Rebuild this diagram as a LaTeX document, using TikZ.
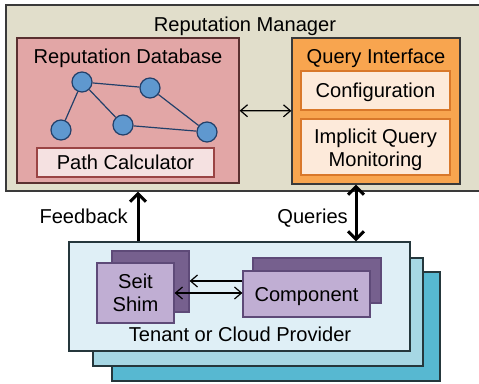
\documentclass[tikz,border=0pt]{standalone}
\usepackage{fontspec}
\setmainfont{Liberation Sans}
\usetikzlibrary{arrows.meta}

\definecolor{mgrfill}{HTML}{E1DECB}
\definecolor{darkline}{HTML}{3A3A3A}
\definecolor{dbfill}{HTML}{E2A6A6}
\definecolor{dbline}{HTML}{5A3030}
\definecolor{pathfill}{HTML}{F5E1E1}
\definecolor{pathline}{HTML}{9A4444}
\definecolor{peerfill}{HTML}{5F98CF}
\definecolor{peerline}{HTML}{22406A}
\definecolor{qifill}{HTML}{F8A54F}
\definecolor{cfgfill}{HTML}{FDEADA}
\definecolor{cfgline}{HTML}{D9782A}
\definecolor{tenantA}{HTML}{DFEFF6}
\definecolor{tenantB}{HTML}{A6D7E4}
\definecolor{tenantC}{HTML}{57B8D1}
\definecolor{tenantline}{HTML}{25373C}
\definecolor{shimback}{HTML}{76608E}
\definecolor{shimfront}{HTML}{C0AED3}
\definecolor{shimline}{HTML}{5E4A78}

\begin{document}
\begin{tikzpicture}[x=1pt, y=-1pt,
  font=\fontsize{20.1pt}{23pt}\selectfont,
  >={Straight Barb[length=7pt,width=12pt]},
  box/.style={draw, rectangle, inner sep=0pt, line width=1.2pt},
  txt/.style={inner sep=0pt, text height=14.3pt, text depth=0pt},
  peer/.style={circle, draw=peerline, fill=peerfill, line width=1.2pt,
    minimum size=20pt, inner sep=0pt},
  link/.style={draw=peerline, line width=1.2pt},
  flow/.style={<->, line width=1.2pt},
  bigflow/.style={line width=3pt, >={Straight Barb[length=8pt,width=16pt]}}]

\useasboundingbox (0,0) rectangle (479,383);

% -------------------------------------------------------
% 1. Reputation Manager
% -------------------------------------------------------
\node[box, draw=darkline, fill=mgrfill, minimum width=486pt, minimum height=186pt] (mgr) at (249,98) {};
\node[txt, anchor=base] (mgrtitle) at (245,31) {Reputation Manager};

% -------------------------------------------------------
% 2. Reputation Database with its graph
% -------------------------------------------------------
\node[box, draw=dbline, fill=dbfill, minimum width=222pt, minimum height=145pt] (db) at (128,110.5) {};
\node[txt, anchor=base] (dbtitle) at (128,63) {Reputation Database};

\foreach \n/\x/\y in {pa/82/82, pb/150/88, pc/61/130, pd/123/125, pe/207/132} {
  \node[peer] (\n) at (\x,\y) {};
}
\foreach \u/\v in {pa/pb, pa/pc, pa/pd, pb/pe, pd/pe} {
  \draw[link] (\u) -- (\v);
}

\node[box, txt, draw=pathline, fill=pathfill, minimum width=177pt, minimum height=29pt] (path) at (125.5,162.5) {Path Calculator};

% -------------------------------------------------------
% 3. Query Interface
% -------------------------------------------------------
\node[box, draw=darkline, fill=qifill, minimum width=168pt, minimum height=146pt] (qi) at (376,111) {};
\node[txt, anchor=base] (qititle) at (376,63) {Query Interface};
\node[box, txt, draw=cfgline, fill=cfgfill, minimum width=149pt, minimum height=39pt] (cfg) at (375.5,90.5) {Configuration};
\node[box, draw=cfgline, fill=cfgfill, minimum width=149pt, minimum height=56pt] (mon) at (375.5,147) {};
\node[inner sep=0pt, align=center] (montext) at (375.5,150) {Implicit Query\\Monitoring};

\draw[flow] (db) -- (qi);

% -------------------------------------------------------
% 4. Tenant or Cloud Provider (stacked)
% -------------------------------------------------------
\node[box, draw=tenantline, fill=tenantC, minimum width=328pt, minimum height=109pt] (tenantc) at (276,326.5) {};
\node[box, draw=tenantline, fill=tenantB, minimum width=330pt, minimum height=108pt] (tenantb) at (258,312) {};
\node[box, draw=tenantline, fill=tenantA, minimum width=341pt, minimum height=109pt] (tenant) at (239.5,296.5) {};
\node[txt, anchor=base] (tenanttitle) at (240,341.5) {Tenant or Cloud Provider};

\node[box, draw=shimline, fill=shimback, minimum width=77pt, minimum height=61pt] (shimb) at (150.5,281.5) {};
\node[box, draw=shimline, fill=shimback, minimum width=128pt, minimum height=45pt] (compb) at (317,280.5) {};
\draw[flow] (compb.west |- 0,281) -- (shimb.east |- 0,281);

\node[box, draw=shimline, fill=shimfront, minimum width=77pt, minimum height=60pt, align=center] (shim) at (135.5,293) {Seit\\Shim};
\node[box, txt, draw=shimline, fill=shimfront, minimum width=127pt, minimum height=46pt] (comp) at (306.5,294) {Component};
\draw[flow] (shim.east |- 0,293) -- (comp.west |- 0,293);

% -------------------------------------------------------
% 5. Feedback and Queries
% -------------------------------------------------------
\coordinate (fb) at (138,0);
\coordinate (qu) at (356,0);
\draw[bigflow, ->] (fb |- tenant.north) -- (fb |- mgr.south);
\draw[bigflow, <->] (qu |- tenant.north) -- (qu |- qi.south);
\node[txt, anchor=base east] (fblabel) at (128,223) {Feedback};
\node[txt, anchor=base east] (qulabel) at (348,223) {Queries};

\end{tikzpicture}
\end{document}
